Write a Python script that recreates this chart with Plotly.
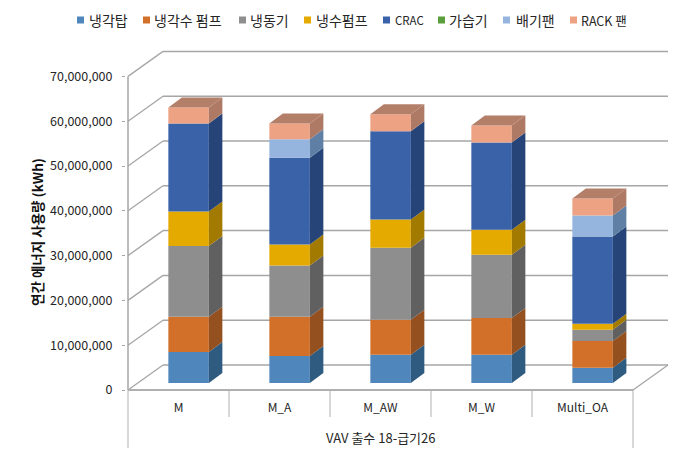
import plotly.graph_objects as go

categories = ["M", "M_A", "M_AW", "M_W", "Multi_OA"]
group_label = "VAV 출수 18-급기26"
y_ticks = [0, 10000000, 20000000, 30000000, 40000000, 50000000, 60000000, 70000000]

cooling_tower = [6900000, 6000000, 6300000, 6300000, 3400000]
cw_pump = [7900000, 8800000, 7800000, 8200000, 6000000]
chiller = [15800000, 11400000, 16100000, 14100000, 2500000]
chw_pump = [7700000, 4700000, 6300000, 5600000, 1300000]
crac = [19600000, 19400000, 19700000, 19500000, 19500000]
humidifier = [0, 0, 0, 0, 0]
exhaust_fan = [0, 4100000, 0, 0, 4700000]
rack_fan = [3600000, 3500000, 3800000, 3800000, 3800000]

series_names = ["냉각탑", "냉각수 펌프", "냉동기", "냉수펌프", "CRAC", "가습기", "배기팬", "RACK 팬"]
series_values = [cooling_tower, cw_pump, chiller, chw_pump, crac, humidifier, exhaust_fan, rack_fan]
front_colors = ["#4f87bd", "#d2702a", "#8e8e8e", "#e5aa00", "#3a62a8", "#5b9f3d", "#95b5df", "#eda284"]
side_colors = ["#2f5b80", "#94501f", "#606060", "#a37a00", "#264478", "#3e6e2a", "#5f7fa5", "#ae7a66"]
top_color = "#b47f69"

W, H = 691, 457
PAGE = 8  # the browser's default body margin
PX_CAT = 101.0
PX_VAL = 44.8 / 1e7
AX_X, AX_Y = 128, 390
L, R, T, B = 126, 674, 48, 392


def dx(px):
    return px / PX_CAT


def dy(px):
    return px / PX_VAL


def px_paper(x, y):
    return (x - L) / (R - L), (B - y) / (B - T)


wall_dx, wall_dy = dx(35), dy(25)
bar_dx, bar_dy = dx(13.5), dy(10)
bar_w = 40.5 / PX_CAT
bar_off = 0.1
base0 = dy(7)
x_end = len(categories)

fig = go.Figure()
xs = [i + 0.5 + bar_off for i in range(len(categories))]

cum = [base0] * len(categories)
for name, vals, fc, sc in zip(series_names, series_values, front_colors, side_colors):
    fig.add_trace(go.Bar(x=xs, y=vals, base=list(cum), width=bar_w, name=name,
                         marker=dict(color=fc, line=dict(width=0)), showlegend=False))
    for i, v in enumerate(vals):
        if v <= 0:
            continue
        x1 = xs[i] + bar_w / 2
        b, t = cum[i], cum[i] + v
        fig.add_trace(go.Scatter(
            x=[x1, x1 + bar_dx, x1 + bar_dx, x1, x1],
            y=[b, b + bar_dy, t + bar_dy, t, b],
            mode="lines", fill="toself", fillcolor=sc, line=dict(width=0),
            hoverinfo="skip", showlegend=False))
    cum = [c + v for c, v in zip(cum, vals)]

for i, t in enumerate(cum):
    x0, x1 = xs[i] - bar_w / 2, xs[i] + bar_w / 2
    fig.add_trace(go.Scatter(
        x=[x0, x1, x1 + bar_dx, x0 + bar_dx, x0],
        y=[t, t, t + bar_dy, t + bar_dy, t],
        mode="lines", fill="toself", fillcolor=top_color, line=dict(width=0),
        hoverinfo="skip", showlegend=False))

shapes = []
GRID = "#a6a6a6"


def seg(x0, y0, x1, y1, width=1.3, color=GRID):
    shapes.append(dict(type="line", xref="x", yref="y", x0=x0, y0=y0, x1=x1, y1=y1,
                       layer="below", line=dict(color=color, width=width)))


for v in y_ticks:
    seg(0, v, wall_dx, v + wall_dy)
    seg(wall_dx, v + wall_dy, x_end + wall_dx, v + wall_dy, 1.5)
seg(0, 0, 0, y_ticks[-1], 1.5)
seg(0, 0, x_end, 0, 2.2, "#b0b0b0")
seg(x_end, 0, x_end + wall_dx, wall_dy, 1.3)

for i in range(len(categories) + 1):
    end_px = 448 if i in (0, len(categories)) else 417
    shapes.append(dict(type="line", xref="x", yref="paper", x0=i, x1=i,
                       y0=(B - AX_Y) / (B - T), y1=(B - end_px) / (B - T),
                       line=dict(color="#b0b0b0", width=1)))

legend_sw = [77, 143, 239, 304, 383, 438, 503, 570]
legend_tx = [88, 153, 249, 315, 394, 448, 515, 580]
legend_fs = [14, 14, 14, 14, 11.5, 14, 14, 12.5]
annotations = []
for name, col, sx, tx, fs in zip(series_names, front_colors, legend_sw, legend_tx, legend_fs):
    x0, y0 = px_paper(sx, 23.5)
    x1, y1 = px_paper(sx + 7, 16.5)
    shapes.append(dict(type="rect", xref="paper", yref="paper", x0=x0, x1=x1, y0=y0, y1=y1,
                       fillcolor=col, line=dict(width=0)))
    ax, ay = px_paper(tx, 20)
    annotations.append(dict(xref="paper", yref="paper", x=ax, y=ay, text=name, showarrow=False,
                            xanchor="left", yanchor="middle", xshift=-1,
                            font=dict(size=fs, color="#262626")))

ax, ay = px_paper(0, 437)
annotations.append(dict(xref="x", yref="paper", x=x_end / 2, y=ay, text=group_label, showarrow=False,
                        xanchor="center", yanchor="middle", font=dict(size=13, color="#262626")))
ax, ay = px_paper(37, 232)
annotations.append(dict(xref="paper", yref="paper", x=ax, y=ay, text="<b>연간 에너지 사용량 (kWh)</b>",
                        showarrow=False, textangle=-90, xanchor="center", yanchor="middle",
                        font=dict(size=13.5, color="#111111")))

fig.update_layout(
    width=W - 2 * PAGE, height=H - 2 * PAGE, autosize=False,
    margin=dict(l=L - PAGE, r=W - R - PAGE, t=T - PAGE, b=H - B - PAGE, pad=0),
    plot_bgcolor="white", paper_bgcolor="white",
    barmode="overlay", showlegend=False,
    font=dict(family="Noto Sans CJK KR, Noto Sans, sans-serif", size=12, color="#262626"),
    shapes=shapes, annotations=annotations,
    xaxis=dict(range=[(L - AX_X) / PX_CAT, (R - AX_X) / PX_CAT],
               tickmode="array", tickvals=[i + 0.5 for i in range(len(categories))], ticktext=categories,
               ticks="outside", ticklen=5, tickcolor="rgba(0,0,0,0)", showgrid=False, zeroline=False,
               showline=False, tickfont=dict(size=12)),
    yaxis=dict(range=[(AX_Y - B) / PX_VAL, (AX_Y - T) / PX_VAL],
               tickmode="array", tickvals=y_ticks, tickformat=",d",
               ticks="outside", ticklen=3, tickcolor=GRID, showgrid=False, zeroline=False,
               showline=False, tickfont=dict(size=12.5), ticklabelstandoff=7),
)
fig.write_html("out.html")
